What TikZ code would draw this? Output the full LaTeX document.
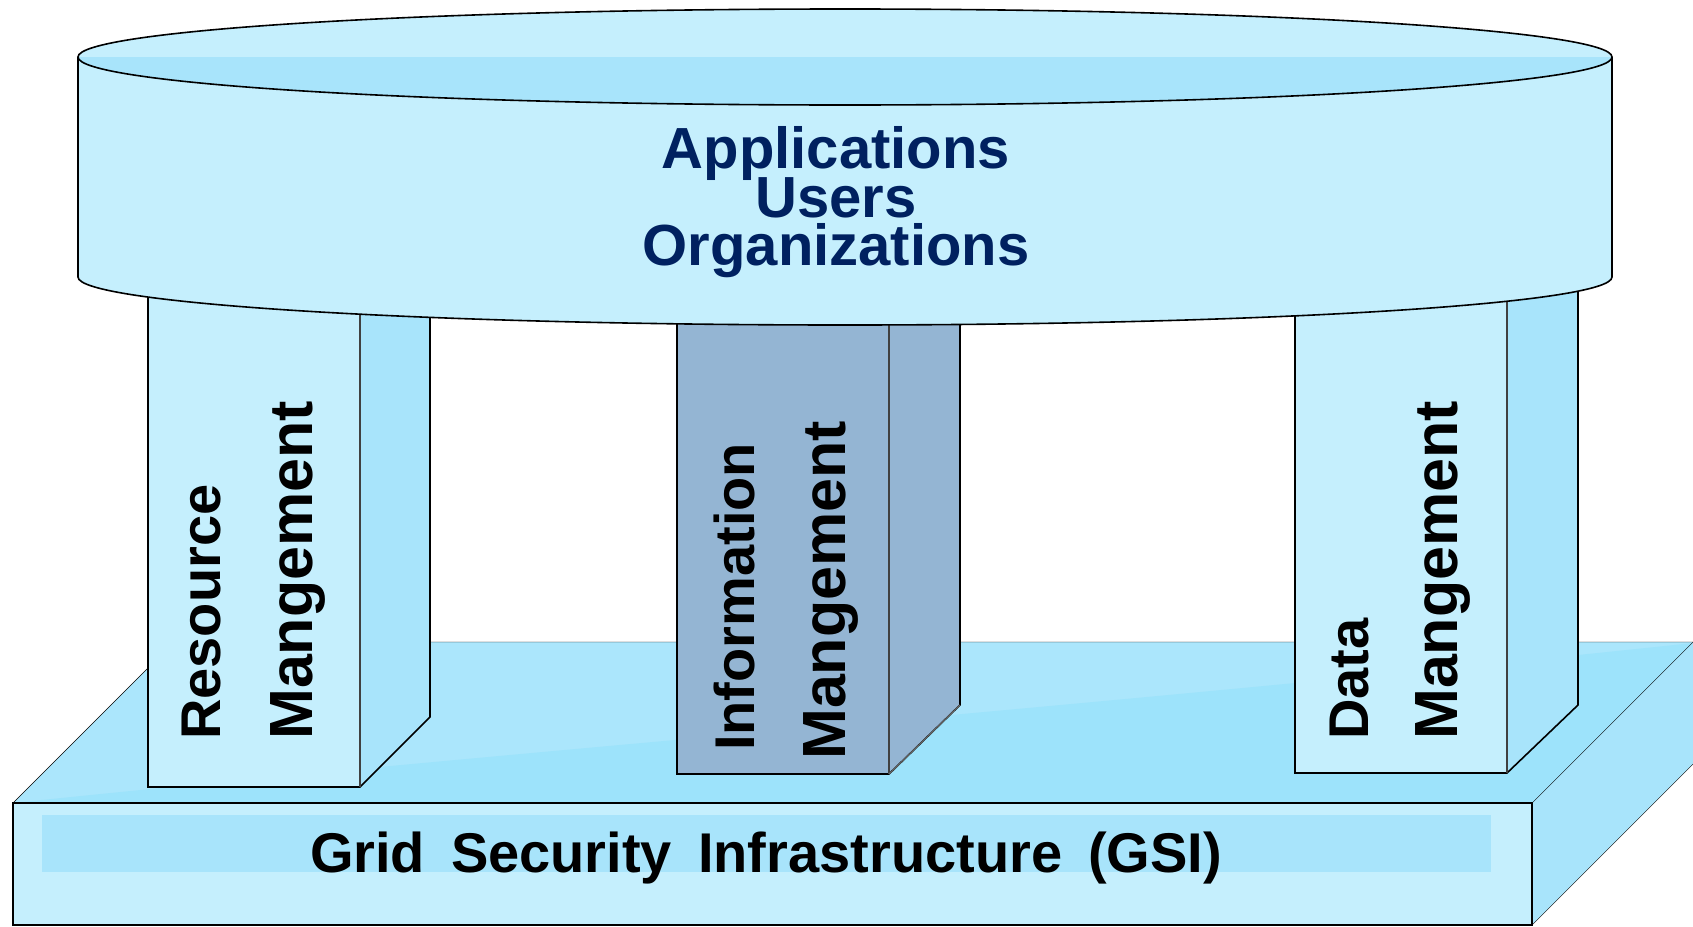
\documentclass[tikz,border=0pt]{standalone}
\usepackage{fontspec}
\setmainfont{Liberation Sans}
\definecolor{skylight}{RGB}{197,239,253}
\definecolor{skymid}{RGB}{171,230,252}
\definecolor{skydark}{RGB}{168,228,251}
\definecolor{skydeep}{RGB}{157,227,251}
\definecolor{steel}{RGB}{148,181,211}
\definecolor{navy}{RGB}{0,33,96}
\newcommand{\gsifont}{\fontsize{56}{56}\selectfont\bfseries\spaceskip=26pt\relax}
\newcommand{\discfont}{\fontsize{58}{48.5}\selectfont\bfseries\lineskiplimit=-60pt\relax}

\begin{document}
\begin{tikzpicture}[x=1pt,y=-1pt,
  edge/.style={black,line width=1.6pt},
  innerline/.style={black!75,line width=1.2pt},
  disctext/.style={navy,inner sep=0pt,align=center,font=\discfont},
  pillartext/.style={black,inner sep=0pt,rotate=90,anchor=base west,
    font=\fontsize{56}{56}\selectfont\bfseries},
  pillarword/.style={pillartext,font=\fontsize{61}{61}\selectfont\bfseries}]

\useasboundingbox (0,0) rectangle (1693,926);

% base slab (GSI)
\fill[skymid] (13,803) -- (174,642) -- (1693,642) -- (1532,803) -- cycle;
\fill[skydeep] (13,803) .. controls (500,752) and (1100,706) .. (1693,643)
   -- (1532,803) -- cycle;
\fill[skydark] (1532,803) -- (1693,642) -- (1693,764) -- (1532,925) -- cycle;
\fill[skylight] (13,803) rectangle (1532,925);
\fill[skydark] (42,815) rectangle (1491,872);
\draw[edge] (13,803) rectangle (1532,925);
\draw[thin] (13,803) -- (174,642) -- (1693,642);
\draw[thin] (1532,803) -- (1693,642);
\draw[thin] (1532,925) -- (1693,764);
\node[black,inner sep=0pt,anchor=base,font=\gsifont]
   (gsi) at (766,872) {Grid Security Infrastructure (GSI)};

% left pillar
\fill[skylight] (148,250) rectangle (360,787);
\fill[skydark] (360,250) -- (360,787) -- (430,717) -- (430,250) -- cycle;
\draw[edge] (148,250) -- (148,787) -- (360,787) -- (430,717) -- (430,250);
\draw[innerline] (360,250) -- (360,787);
\node[pillartext] (res) at (220,740) {Resource};
\node[pillarword] (resmgmt) at (312,740) {Mangement};

% middle pillar
\fill[steel] (677,250) rectangle (889,774);
\fill[steel] (889,250) -- (889,774) -- (960,705) -- (960,250) -- cycle;
\draw[edge] (677,250) -- (677,774) -- (889,774) -- (960,705) -- (960,250);
\draw[innerline] (889,250) -- (889,774);
\draw[black!60,line width=1.2pt] (889,774) -- (960,705);
\node[pillartext] (info) at (754,751) {Information};
\node[pillarword] (infomgmt) at (845,760) {Mangement};

% right pillar
\fill[skylight] (1295,250) rectangle (1507,773);
\fill[skydark] (1507,250) -- (1507,773) -- (1578,705) -- (1578,250) -- cycle;
\draw[edge] (1295,250) -- (1295,773) -- (1507,773) -- (1578,705) -- (1578,250);
\draw[innerline] (1507,250) -- (1507,773);
\node[pillartext] (data) at (1368,740) {Data};
\node[pillarword] (datamgmt) at (1457,740) {Mangement};

% top disc
\fill[skylight] (78,57) rectangle (1612,277);
\fill[skylight] (845,277) ellipse [x radius=767, y radius=48];
\fill[skylight] (845,57) ellipse [x radius=767, y radius=48];
\begin{scope}
  \clip (70,57) rectangle (1620,120);
  \fill[skydark] (845,57) ellipse [x radius=767, y radius=48];
\end{scope}
\draw[edge] (845,57) ellipse [x radius=767, y radius=48];
\draw[edge] (78,57) -- (78,277);
\draw[edge] (1612,57) -- (1612,277);
\begin{scope}
  \clip (70,277) rectangle (1620,340);
  \draw[edge] (845,277) ellipse [x radius=767, y radius=48];
\end{scope}

\node[disctext] (apps) at (836,202.5) {Applications\\Users\\Organizations};

\end{tikzpicture}
\end{document}
